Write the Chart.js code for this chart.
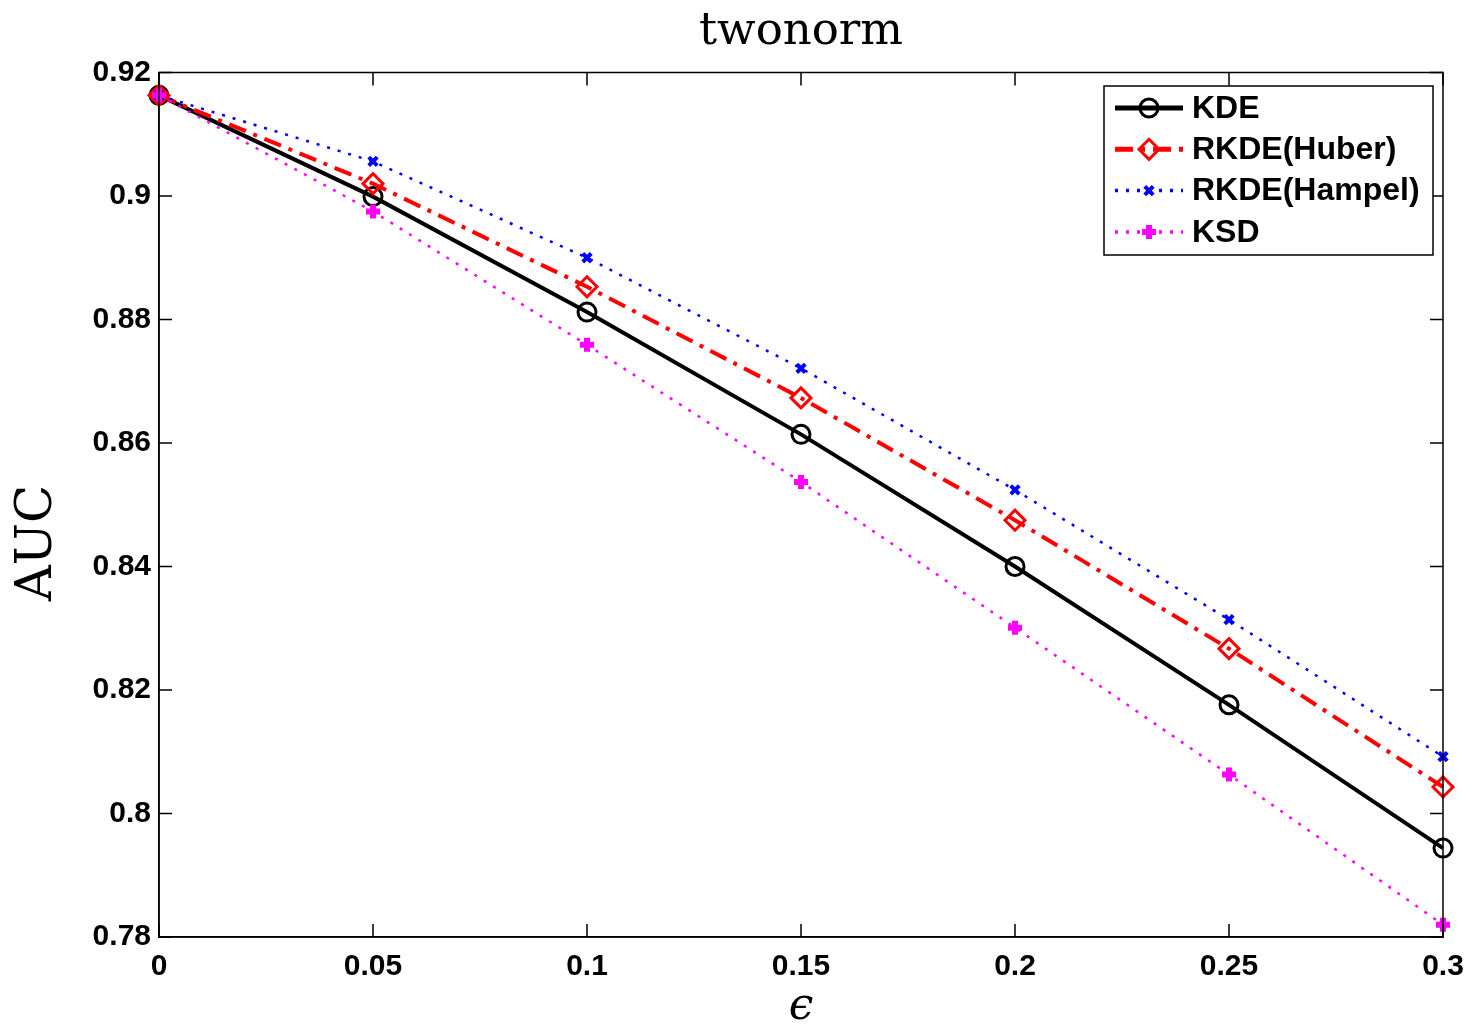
<!DOCTYPE html>
<html>
<head>
<meta charset="utf-8">
<title>twonorm</title>
<script src="https://cdn.jsdelivr.net/npm/chart.js@4/dist/chart.umd.min.js"></script>
<style>
  html, body { margin: 0; padding: 0; background: #fff; }
  #wrap { width: 1472px; height: 1034px; }
</style>
</head>
<body>
<div id="wrap"><canvas id="auc-chart"></canvas></div>
<script>
// contamination levels (epsilon)
const eps = [0, 0.05, 0.1, 0.15, 0.2, 0.25, 0.3];
// AUC values
const kde = [0.9163, 0.8999, 0.8812, 0.8614, 0.8400, 0.8176, 0.7944];
const rkdeHuber = [0.9163, 0.9020, 0.8853, 0.8673, 0.8475, 0.8267, 0.8043];
const rkdeHampel = [0.9163, 0.9056, 0.8900, 0.8721, 0.8524, 0.8314, 0.8092];
const ksd = [0.9163, 0.8975, 0.8759, 0.8537, 0.8301, 0.8063, 0.7820];
// tick labels
const xTickLabels = ["0", "0.05", "0.1", "0.15", "0.2", "0.25", "0.3"];
const yTickLabels = ["0.78", "0.8", "0.82", "0.84", "0.86", "0.88", "0.9", "0.92"];

const toPoints = (vals) => vals.map((v, i) => ({ x: eps[i], y: v }));

const tickFont = { family: "'Liberation Sans', Arial, sans-serif", size: 30, weight: "bold" };
const serif = "'DejaVu Serif', 'Liberation Serif', serif";

// draws inward ticks on all four sides, closes the box, y axis title
const boxTicks = {
    id: "boxTicks",
    afterDraw(chart) {
        const { ctx, chartArea: a, scales } = chart;
        const len = 13;
        ctx.save();
        ctx.strokeStyle = "#000";
        ctx.lineWidth = 1.5;
        ctx.strokeRect(a.left, a.top, a.right - a.left, a.bottom - a.top);
        ctx.beginPath();
        eps.forEach((v) => {
            const px = scales.x.getPixelForValue(v);
            ctx.moveTo(px, a.bottom); ctx.lineTo(px, a.bottom - len);
            ctx.moveTo(px, a.top); ctx.lineTo(px, a.top + len);
        });
        yTickLabels.forEach((t) => {
            const py = scales.y.getPixelForValue(parseFloat(t));
            ctx.moveTo(a.left, py); ctx.lineTo(a.left + len, py);
            ctx.moveTo(a.right, py); ctx.lineTo(a.right - len, py);
        });
        ctx.stroke();
        // y axis title
        ctx.translate(38, 543);
        ctx.rotate(-Math.PI / 2);
        ctx.fillStyle = "#000";
        ctx.font = "50px " + serif;
        ctx.textAlign = "center";
        ctx.textBaseline = "middle";
        ctx.fillText("AUC", 0, 0);
        ctx.restore();
    },
};

// matlab style legend box in the upper right corner
const boxLegend = {
    id: "boxLegend",
    afterDraw(chart) {
        const { ctx } = chart;
        const x0 = 1104, y0 = 86, w = 329, h = 169;
        ctx.save();
        ctx.fillStyle = "#fff";
        ctx.fillRect(x0, y0, w, h);
        ctx.strokeStyle = "#000";
        ctx.lineWidth = 1.5;
        ctx.strokeRect(x0, y0, w, h);
        const order = chart.data.datasets.slice().reverse();
        order.forEach((ds, i) => {
            const y = 108 + i * 41.3;
            ctx.save();
            ctx.strokeStyle = ds.borderColor;
            ctx.lineWidth = ds.borderWidth + 1;
            ctx.lineCap = "butt";
            ctx.setLineDash(ds.borderDash || []);
            ctx.beginPath();
            ctx.moveTo(1115, y);
            ctx.lineTo(1183, y);
            ctx.stroke();
            ctx.restore();
            ctx.save();
            ctx.strokeStyle = ds.pointBorderColor;
            ctx.fillStyle = ds.pointBackgroundColor;
            ctx.lineWidth = ds.pointBorderWidth;
            Chart.helpers.drawPoint(ctx, {
                pointStyle: ds.pointStyle,
                radius: ds.pointRadius,
                borderWidth: ds.pointBorderWidth,
                rotation: 0,
            }, 1149, y);
            ctx.restore();
            ctx.fillStyle = "#000";
            ctx.font = "bold 32px 'Liberation Sans', Arial, sans-serif";
            ctx.textBaseline = "middle";
            ctx.fillText(ds.label, 1192, y + 1);
        });
        ctx.restore();
    },
};

Chart.defaults.animation = false;

const ctx = document.getElementById("auc-chart").getContext("2d");
const aucChart = new Chart(ctx, {
    type: "line",
    data: {
        // drawn back to front: KSD first, KDE on top
        datasets: [
            {
                label: "KSD",
                data: toPoints(ksd),
                borderColor: "#ff00ff",
                borderWidth: 2.5,
                borderDash: [3, 8],
                pointStyle: "cross",
                pointRadius: 7,
                pointBorderWidth: 6,
                pointBorderColor: "#ff00ff",
                pointBackgroundColor: "#ff00ff",
                backgroundColor: "rgba(0,0,0,0)",
                clip: false,
            },
            {
                label: "RKDE(Hampel)",
                data: toPoints(rkdeHampel),
                borderColor: "#0000ff",
                borderWidth: 2.5,
                borderDash: [3, 8],
                pointStyle: "crossRot",
                pointRadius: 6,
                pointBorderWidth: 4,
                pointBorderColor: "#0000ff",
                pointBackgroundColor: "#0000ff",
                backgroundColor: "rgba(0,0,0,0)",
                clip: false,
            },
            {
                label: "RKDE(Huber)",
                data: toPoints(rkdeHuber),
                borderColor: "#ff0000",
                borderWidth: 4,
                borderDash: [18, 8, 4, 8],
                pointStyle: "rectRot",
                pointRadius: 10,
                pointBorderWidth: 3,
                pointBorderColor: "#ff0000",
                pointBackgroundColor: "rgba(0,0,0,0)",
                backgroundColor: "rgba(0,0,0,0)",
                clip: false,
            },
            {
                label: "KDE",
                data: toPoints(kde),
                borderColor: "#000",
                borderWidth: 4,
                pointStyle: "circle",
                pointRadius: 9,
                pointBorderWidth: 3,
                pointBorderColor: "#000",
                pointBackgroundColor: "rgba(0,0,0,0)",
                backgroundColor: "rgba(0,0,0,0)",
                clip: false,
            },
        ],
    },
    options: {
        responsive: true,
        maintainAspectRatio: false,
        layout: { padding: { left: 0, right: 29, top: 0, bottom: 0 } },
        elements: { line: { tension: 0, fill: false } },
        plugins: {
            legend: { display: false },
            tooltip: { enabled: false },
            title: {
                display: true,
                fullSize: false,
                text: "twonorm",
                color: "#000",
                font: { family: serif, size: 45, weight: "normal", lineHeight: 1.1 },
                padding: { top: 8, bottom: 15 },
            },
        },
        scales: {
            x: {
                type: "linear",
                min: 0,
                max: 0.3,
                ticks: {
                    stepSize: 0.05,
                    color: "#000",
                    font: tickFont,
                    padding: 12,
                    maxRotation: 0,
                    callback: (v, i) => xTickLabels[i],
                },
                grid: { drawOnChartArea: false, drawTicks: false },
                border: { display: true, color: "#000", width: 1.5 },
                title: {
                    display: true,
                    text: "ϵ",
                    color: "#000",
                    font: { family: serif, size: 44, style: "italic" },
                    padding: { top: 4, bottom: 0 },
                },
                afterFit: (scale) => {
                    scale.height = 97;
                    // let the layout padding alone decide the right edge
                    scale.paddingLeft = 0;
                    scale.paddingRight = 0;
                },
            },
            y: {
                type: "linear",
                min: 0.78,
                max: 0.92,
                ticks: {
                    stepSize: 0.02,
                    color: "#000",
                    font: tickFont,
                    padding: 8,
                    callback: (v, i) => yTickLabels[i],
                },
                grid: { drawOnChartArea: false, drawTicks: false },
                border: { display: true, color: "#000", width: 1.5 },
                afterFit: (scale) => { scale.width = 159; },
            },
        },
    },
    plugins: [boxTicks, boxLegend],
});
</script>
</body>
</html>
